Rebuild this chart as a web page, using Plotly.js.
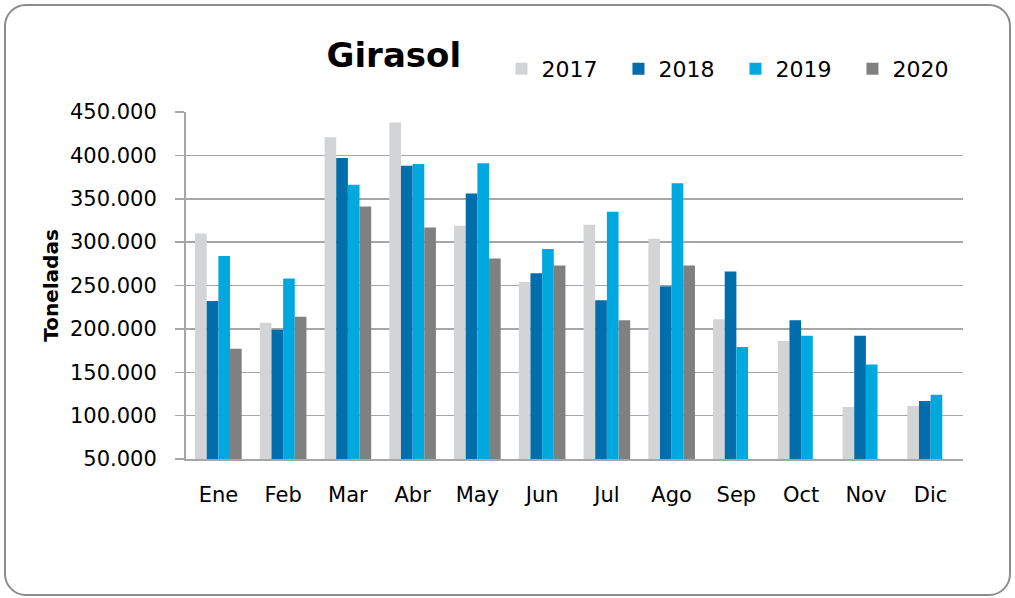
<!DOCTYPE html>
<html>
<head>
<meta charset="utf-8">
<script src="https://cdn.plot.ly/plotly-3.0.1.min.js"></script>
<style>
  html, body { margin: 0; padding: 0; background: #ffffff; }
  #frame { position: absolute; left: 4px; top: 4px; width: 1003px; height: 588px;
           border: 2px solid #8c8c8c; border-radius: 22px; overflow: hidden; }
  #chart { position: absolute; left: -6px; top: -6px; width: 1015px; height: 598px; }
</style>
</head>
<body>
<div id="frame"><div id="chart"></div></div>
<script>
const months = ["Ene","Feb","Mar","Abr","May","Jun","Jul","Ago","Sep","Oct","Nov","Dic"];
const years = ["2017","2018","2019","2020"];
const v2017 = [310000, 207000, 421000, 438000, 319000, 254000, 320000, 304000, 211000, 186000, 110000, 111000];
const v2018 = [232000, 199000, 397000, 388000, 356000, 264000, 233000, 249000, 266000, 210000, 192000, 117000];
const v2019 = [284000, 258000, 366000, 390000, 391000, 292000, 335000, 368000, 179000, 192000, 159000, 124000];
const v2020 = [177000, 214000, 341000, 317000, 281000, 273000, 210000, 273000, null, null, null, null];
const colors = ["#D3D4D6", "#006EAA", "#00A8E0", "#808080"];
const seriesValues = [v2017, v2018, v2019, v2020];

const traces = years.map((y, i) => ({
  type: "bar",
  name: y,
  x: months,
  y: seriesValues[i],
  marker: { color: colors[i] },
  hoverinfo: "x+y+name"
}));

const font = "'DejaVu Sans', 'Open Sans', sans-serif";

const layout = {
  width: 1015, height: 598,
  margin: { l: 186, r: 52, t: 112, b: 139 },
  paper_bgcolor: "rgba(0,0,0,0)",
  plot_bgcolor: "#ffffff",
  separators: ",.",
  barmode: "group",
  bargap: 0.28,
  bargroupgap: 0,
  font: { family: font, color: "#000000", size: 20 },
  title: {
    text: "<b>Girasol</b>",
    font: { family: font, size: 34, color: "#000000" },
    x: 0.388, xref: "container", xanchor: "center",
    y: 0.908, yref: "container", yanchor: "middle"
  },
  legend: {
    orientation: "h",
    x: 0.406, xanchor: "left",
    y: 1.124, yanchor: "middle",
    font: { family: font, size: 22, color: "#000000" },
    entrywidth: 72,
    entrywidthmode: "pixels",
    bgcolor: "rgba(0,0,0,0)"
  },
  xaxis: {
    type: "category",
    showgrid: false,
    showline: true,
    linecolor: "#a6a6a6",
    linewidth: 2,
    ticks: "",
    tickfont: { family: font, size: 21, color: "#000000" },
    ticklabelstandoff: 16,
    fixedrange: true
  },
  yaxis: {
    range: [50000, 450000],
    dtick: 50000,
    tick0: 50000,
    tickformat: ",d",
    showgrid: true,
    gridcolor: "#a6a6a6",
    gridwidth: 1.5,
    showline: true,
    linecolor: "#a6a6a6",
    linewidth: 2,
    ticks: "outside",
    ticklen: 9,
    tickcolor: "#a6a6a6",
    tickwidth: 1.5,
    zeroline: false,
    tickfont: { family: font, size: 21, color: "#000000" },
    ticklabelstandoff: 14,
    title: {
      text: "<b>Toneladas</b>",
      font: { family: font, size: 20, color: "#000000" },
      standoff: 6
    },
    fixedrange: true
  },
  showlegend: true
};

Plotly.newPlot("chart", traces, layout, { displayModeBar: false, staticPlot: true });
</script>
</body>
</html>
